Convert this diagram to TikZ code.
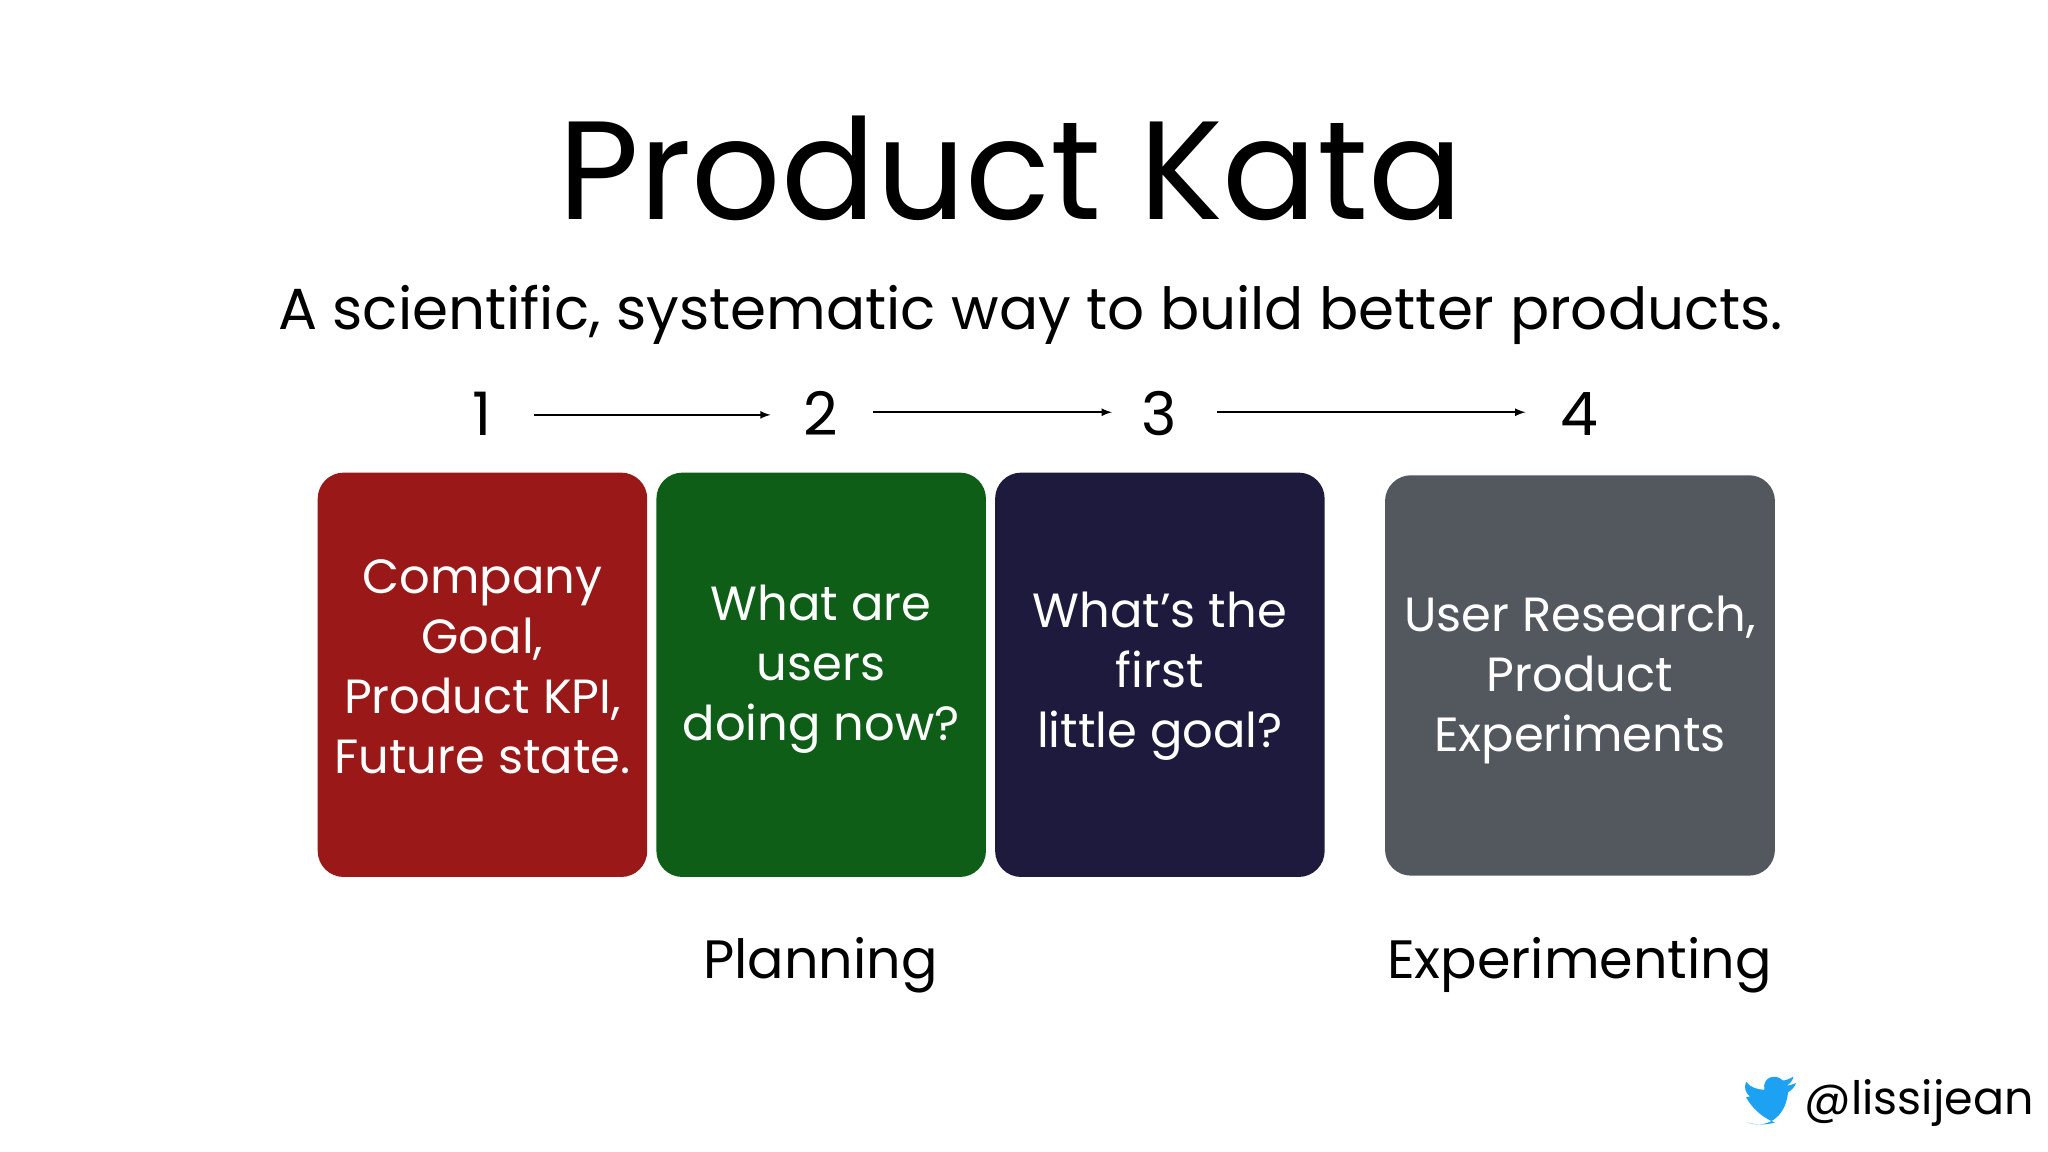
\documentclass[tikz,border=0pt]{standalone}
\usepackage{fontspec}
\setmainfont{Poppins}
\definecolor{kred}{HTML}{9A1818}
\definecolor{kgreen}{HTML}{0F5E17}
\definecolor{knavy}{HTML}{1E1A3D}
\definecolor{kgray}{HTML}{53575E}
\definecolor{tw}{HTML}{1DA1F2}
\begin{document}
\begin{tikzpicture}[x=1.313pt,y=-1.313pt,
  card/.style={rounded corners=26pt,draw=none},
  cardtext/.style={text=white,align=center,font=\fontsize{48}{60}\selectfont},
  num/.style={font=\fontsize{60}{60}\selectfont},
  lbl/.style={font=\fontsize{54}{60}\selectfont},
  arr/.style={-latex,line width=2.5pt}]
\useasboundingbox[fill=white] (0,0) rectangle (1560,877.4);
\node (title) at (770,128) {\fontsize{140}{150}\selectfont Product Kata};
\node (sub) at (785,240) {\fontsize{58}{60}\selectfont A scientific, systematic way to build better products.};
\node[num] (n1) at (367,315) {1};
\node[num] (n2) at (625,315) {2};
\node[num] (n3) at (883,315) {3};
\node[num] (n4) at (1203,315) {4};
\coordinate (a1s) at (407,316); \coordinate (a1e) at (587,316);
\coordinate (a2s) at (665,314); \coordinate (a2e) at (847,314);
\coordinate (a3s) at (927,314); \coordinate (a3e) at (1162,314);
\draw[arr] (a1s) -- (a1e);
\draw[arr] (a2s) -- (a2e);
\draw[arr] (a3s) -- (a3e);
\fill[card,kred] (242,360) rectangle (493,668);
\fill[card,kgreen] (500,360) rectangle (751,668);
\fill[card,knavy] (758,360) rectangle (1009,668);
\fill[card,kgray] (1055,362) rectangle (1352,667);
\node[cardtext] (t1) at (367.5,508) {Company\\Goal,\\Product KPI,\\Future state.};
\node[cardtext] (t2) at (625.5,510) {What are\\users\\doing now?};
\node[cardtext] (t3) at (883.5,515) {What’s the\\first\\little goal?};
\node[cardtext] (t4) at (1203.5,518) {User Research,\\Product\\Experiments};
\node[lbl] (plan) at (625,735) {Planning};
\node[lbl] (exp) at (1203,735) {Experimenting};
\node[font=\fontsize{46}{50}\selectfont,anchor=west] (handle) at (1372,840) {@lissijean};
% twitter bird (approximate)
\fill[tw] (1330,836) .. controls (1336,846) and (1344,852) .. (1352,855)
  .. controls (1345,857) and (1338,857) .. (1331,855)
  .. controls (1345,860) and (1360,852) .. (1362,832)
  .. controls (1365,830) and (1367,828) .. (1368,825)
  .. controls (1365,826) and (1363,827) .. (1361,827)
  .. controls (1364,825) and (1366,822) .. (1366,820)
  .. controls (1363,822) and (1360,823) .. (1358,823)
  .. controls (1352,817) and (1342,821) .. (1344,830)
  .. controls (1338,830) and (1333,828) .. (1330,824)
  .. controls (1328,829) and (1330,833) .. (1333,835)
  -- cycle;
\end{tikzpicture}
\end{document}
